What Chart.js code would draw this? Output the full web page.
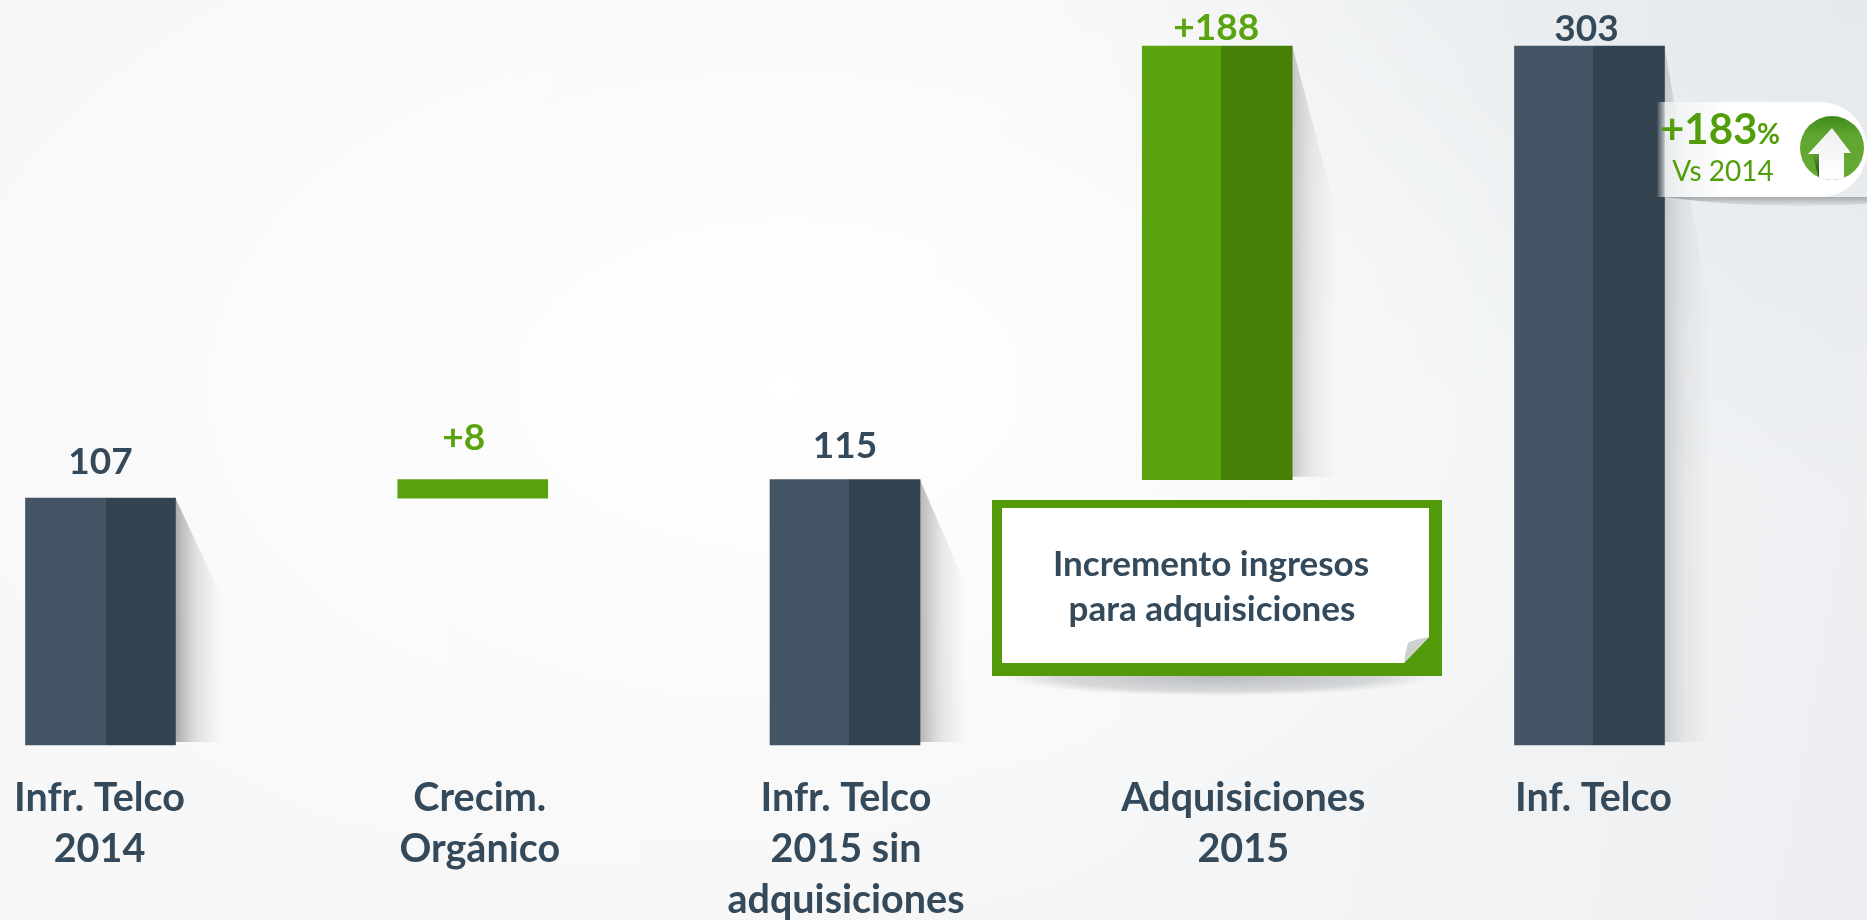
<!DOCTYPE html>
<html>
<head>
<meta charset="utf-8">
<script src="https://cdn.jsdelivr.net/npm/chart.js@4"></script>
<style>
  html, body { margin: 0; padding: 0; width: 1867px; height: 920px; overflow: hidden; }
  body {
    background:
      radial-gradient(ellipse 900px 560px at 42% 42%, rgba(255,255,255,1) 0%, rgba(255,255,255,0) 100%),
      radial-gradient(ellipse 800px 500px at 100% 0%, rgba(229,233,236,1) 0%, rgba(229,233,236,0) 100%),
      linear-gradient(100deg, #f8f8f8 0%, #f7f7f8 45%, #f1f3f4 80%, #eceef1 100%);
  }
  canvas { display: block; }
</style>
</head>
<body>
<canvas id="myChart" width="1867" height="920"></canvas>
<script>
'use strict';

const categories = [
  ['Infr. Telco', '2014'],
  ['Crecim.', 'Orgánico'],
  ['Infr. Telco', '2015 sin', 'adquisiciones'],
  ['Adquisiciones', '2015'],
  ['Inf. Telco']
];
const barStart = [0, 107, 0, 115, 0];
const barEnd = [107, 115, 115, 303, 303];
const valueLabels = ['107', '+8', '115', '+188', '303'];

const labelNudge = [-1, 7, 1, 26, 4];
const valueNudge = [[0, 36], [-9, 42], [0, 34], [-1, 18], [-3, 17]];
const shadowAlpha = [0.42, 0, 0.36, 0.25, 0.2];
const splitAt = [0.54, 0.5, 0.525, 0.525, 0.525];

const slate = '#34495a';
const green = '#5aa50f';
const barLight = ['#435565', '#5aa30e', '#435565', '#5aa30e', '#435565'];
const barDark = ['#33434f', '#5aa30e', '#33434f', '#468009', '#33434f'];
const fontName = 'Lato';

function barFill(ctx) {
  const i = ctx.dataIndex;
  const chart = ctx.chart;
  if (!chart.chartArea || i === undefined) return barLight[i || 0];
  const x = chart.scales.x.getPixelForValue(i);
  const g = chart.ctx.createLinearGradient(x - 75, 0, x + 75, 0);
  g.addColorStop(0, barLight[i]);
  g.addColorStop(splitAt[i], barLight[i]);
  g.addColorStop(splitAt[i], barDark[i]);
  g.addColorStop(1, barDark[i]);
  return g;
}

// long soft shadows on the right of the bars
const barShadows = {
  id: 'barShadows',
  beforeDatasetsDraw(chart) {
    const c = chart.ctx;
    chart.getDatasetMeta(0).data.forEach(function (bar, i) {
      if (!shadowAlpha[i]) return;
      const right = bar.x + bar.width / 2;
      const h = bar.base - bar.y;
      const g = c.createLinearGradient(right, 0, right + 46, 0);
      g.addColorStop(0, 'rgba(60,60,60,' + shadowAlpha[i] + ')');
      g.addColorStop(0.45, 'rgba(100,100,100,' + shadowAlpha[i] * 0.4 + ')');
      g.addColorStop(1, 'rgba(120,120,120,0)');
      c.save();
      c.fillStyle = g;
      c.beginPath();
      c.moveTo(right, bar.y);
      c.lineTo(right + 46, bar.y + Math.min(h * 0.4, 270));
      c.lineTo(right + 46, bar.base - 3);
      c.lineTo(right, bar.base - 3);
      c.closePath();
      c.fill();
      c.restore();
    });
  }
};

// the axis labels are not all centred under their bars
const nudgeTicks = {
  id: 'nudgeTicks',
  beforeDraw(chart) {
    const scale = chart.scales.x;
    scale.getLabelItems().forEach(function (item, i) {
      item.options.translation[0] = scale.getPixelForTick(i) + labelNudge[i];
    });
  }
};

function drawCallout(c) {
  // shadow under the box
  c.save();
  c.translate(1217, 676);
  c.scale(1, 20 / 215);
  const s = c.createRadialGradient(0, 0, 0, 0, 0, 215);
  s.addColorStop(0, 'rgba(90,95,100,0.4)');
  s.addColorStop(0.75, 'rgba(100,105,110,0.22)');
  s.addColorStop(1, 'rgba(110,115,120,0)');
  c.fillStyle = s;
  c.beginPath();
  c.arc(0, 0, 215, 0, Math.PI);
  c.fill();
  c.restore();

  c.fillStyle = '#529a0a';
  c.fillRect(992, 500, 450, 176);
  c.fillStyle = '#ffffff';
  c.beginPath();
  c.moveTo(1002, 508);
  c.lineTo(1429, 508);
  c.lineTo(1429, 637);
  c.lineTo(1404, 663);
  c.lineTo(1002, 663);
  c.closePath();
  c.fill();
  // curled corner
  c.fillStyle = '#cfd1d1';
  c.beginPath();
  c.moveTo(1429, 637);
  c.quadraticCurveTo(1412, 640, 1408, 643);
  c.quadraticCurveTo(1405, 652, 1404, 663);
  c.closePath();
  c.fill();

  c.fillStyle = slate;
  c.font = 'bold 35px ' + fontName;
  c.textAlign = 'center';
  c.textBaseline = 'middle';
  c.fillText('Incremento ingresos', 1211, 565);
  c.fillText('para adquisiciones', 1212, 610);
}

function drawBadge(c) {
  // shadow under the pill
  const sh = c.createLinearGradient(0, 197, 0, 208);
  sh.addColorStop(0, 'rgba(70,75,80,0.4)');
  sh.addColorStop(1, 'rgba(90,95,100,0)');
  c.fillStyle = sh;
  c.beginPath();
  c.moveTo(1664, 197);
  c.lineTo(1867, 197);
  c.lineTo(1867, 204);
  c.quadraticCurveTo(1760, 210, 1664, 197);
  c.fill();

  const g = c.createLinearGradient(1657, 0, 1730, 0);
  g.addColorStop(0, 'rgba(255,255,255,0.05)');
  g.addColorStop(0.12, 'rgba(240,242,243,0.8)');
  g.addColorStop(1, 'rgba(255,255,255,1)');
  c.fillStyle = g;
  c.beginPath();
  c.moveTo(1657, 102);
  c.lineTo(1820, 102);
  c.arcTo(1867, 102, 1867, 149, 47);
  c.arcTo(1867, 197, 1820, 197, 47);
  c.lineTo(1657, 197);
  c.closePath();
  c.fill();

  c.fillStyle = '#519e0a';
  c.textBaseline = 'middle';
  c.textAlign = 'left';
  c.font = 'bold 42px ' + fontName;
  c.fillText('+183', 1660, 130);
  c.font = 'bold 28px ' + fontName;
  c.fillText('%', 1757, 135);
  c.font = '28px ' + fontName;
  c.textAlign = 'center';
  c.fillText('Vs 2014', 1723, 172);

  // round arrow icon
  const r = c.createLinearGradient(0, 116, 0, 180);
  r.addColorStop(0, '#3f8a1c');
  r.addColorStop(0.3, '#5fa52f');
  r.addColorStop(1, '#66aa33');
  c.save();
  c.fillStyle = r;
  c.beginPath();
  c.arc(1832, 148, 32, 0, Math.PI * 2);
  c.fill();
  c.clip();
  const d = c.createLinearGradient(0, 153, 0, 178);
  d.addColorStop(0, '#5fa52f');
  d.addColorStop(1, '#1f3a1a');
  c.fillStyle = d;
  c.beginPath();
  c.moveTo(1812, 153);
  c.lineTo(1819, 153);
  c.lineTo(1819, 178);
  c.closePath();
  c.fill();
  const a = c.createLinearGradient(0, 128, 0, 178);
  a.addColorStop(0, '#efefef');
  a.addColorStop(1, '#ffffff');
  c.fillStyle = a;
  c.beginPath();
  c.moveTo(1832, 128);
  c.lineTo(1851, 153);
  c.lineTo(1844, 153);
  c.lineTo(1844, 182);
  c.lineTo(1819, 182);
  c.lineTo(1819, 154);
  c.lineTo(1808, 154);
  c.closePath();
  c.fill();
  c.restore();
}

// value labels above the bars and the two notes
const overlays = {
  id: 'overlays',
  afterDraw(chart) {
    const c = chart.ctx;
    const y = chart.scales.y;
    const x = chart.scales.x;
    c.save();
    c.font = 'bold 37px ' + fontName;
    c.textAlign = 'center';
    c.textBaseline = 'middle';
    valueLabels.forEach(function (txt, i) {
      c.fillStyle = txt.charAt(0) === '+' ? green : slate;
      c.fillText(txt, x.getPixelForValue(i) + valueNudge[i][0], y.getPixelForValue(barEnd[i]) - valueNudge[i][1]);
    });
    drawCallout(c);
    drawBadge(c);
    c.restore();
  }
};

new Chart(document.getElementById('myChart'), {
  type: 'bar',
  data: {
    labels: categories,
    datasets: [{
      data: barStart.map(function (v, i) { return [v, barEnd[i]]; }),
      backgroundColor: barFill,
      barThickness: 150,
      borderSkipped: false,
      clip: false
    }]
  },
  options: {
    responsive: false,
    animation: false,
    layout: { padding: { left: 100.5, right: 277.5, top: 46, bottom: 0 } },
    plugins: { legend: { display: false }, tooltip: { enabled: false } },
    scales: {
      x: {
        offset: false,
        grid: { display: false, drawTicks: false },
        border: { display: false },
        afterFit(scale) {
          scale.height = 175;
          scale.paddingLeft = 0;
          scale.paddingRight = 0;
        },
        ticks: {
          autoSkip: false,
          maxRotation: 0,
          padding: 28,
          color: slate,
          font: { family: fontName, size: 39.5, weight: 'bold', lineHeight: 1.29 }
        }
      },
      y: { display: false, min: 0, max: 303 }
    }
  },
  plugins: [barShadows, nudgeTicks, overlays]
});
</script>
</body>
</html>
